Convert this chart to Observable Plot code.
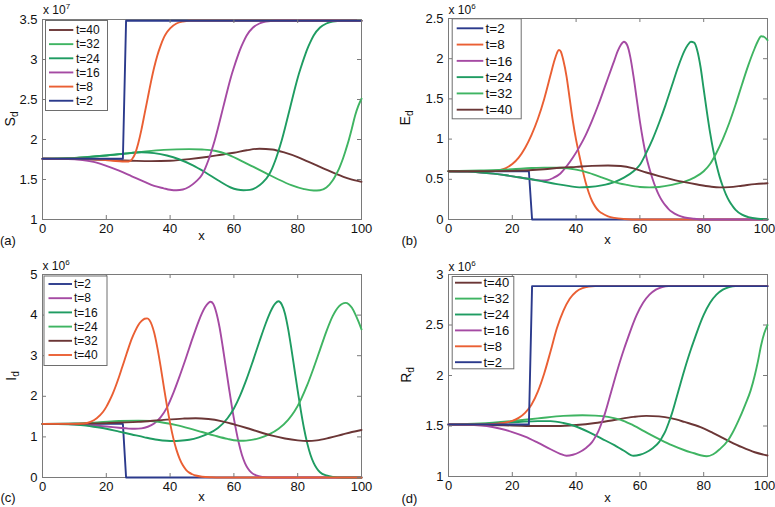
<!DOCTYPE html>
<html><head><meta charset="utf-8">
<script src="https://cdn.jsdelivr.net/npm/d3@7"></script>
<script src="https://cdn.jsdelivr.net/npm/@observablehq/plot@0.6"></script>
<style>
html,body{margin:0;padding:0;background:#fff;}
#fig{position:relative;width:775px;height:507px;overflow:hidden;background:#fff;}
.panel{position:absolute;width:388px;height:254px;}
.panel svg{display:block;overflow:visible;}
</style></head><body><div id="fig"></div>
<script>
// ---------- tick values ----------
const xTicks = [0, 20, 40, 60, 80, 100];
const yTicksS = [1, 1.5, 2, 2.5, 3, 3.5];
const yTicksE = [0, 0.5, 1, 1.5, 2, 2.5];
const yTicksI = [0, 1, 2, 3, 4, 5];
const yTicksR = [1, 1.5, 2, 2.5, 3];

// ---------- legend labels ----------
const legendS = ["t=40", "t=32", "t=24", "t=16", "t=8", "t=2"];
const legendE = ["t=2", "t=8", "t=16", "t=24", "t=32", "t=40"];
const legendI = ["t=2", "t=8", "t=16", "t=24", "t=32", "t=40"];
const legendR = ["t=40", "t=32", "t=24", "t=16", "t=8", "t=2"];

// ---------- (a) S_d  (x 10^7) ----------
const S_t40 = [[0,1.76],[10,1.755],[20,1.745],[28,1.735],[34,1.73],[40,1.735],[46,1.755],[52,1.785],[56,1.81],[60,1.835],[64,1.865],[68,1.885],[72,1.875],[76,1.835],[80,1.78],[84,1.71],[88,1.64],[92,1.57],[96,1.51],[100,1.47]];
const S_t32 = [[0,1.76],[10,1.77],[20,1.80],[30,1.84],[38,1.87],[46,1.88],[50,1.875],[54,1.86],[58,1.815],[62,1.74],[66,1.66],[70,1.58],[74,1.5],[78,1.43],[82,1.38],[85,1.362],[87,1.365],[89,1.4],[91,1.49],[92,1.56],[93,1.64],[94,1.74],[95,1.86],[96,1.99],[97,2.14],[98,2.3],[99,2.42],[100,2.51]];
const S_t24 = [[0,1.76],[8,1.765],[14,1.78],[20,1.80],[26,1.825],[31,1.84],[35,1.83],[39,1.80],[43,1.75],[47,1.68],[51,1.59],[55,1.49],[59,1.4],[61,1.375],[63,1.365],[65,1.37],[67,1.4],[69,1.46],[71,1.56],[72,1.64],[73,1.74],[74,1.86],[75,1.99],[76,2.14],[77,2.3],[78,2.46],[79,2.62],[80,2.77],[81,2.9],[82,3.02],[83,3.13],[84,3.22],[85,3.3],[87,3.4],[89,3.45],[91,3.475],[94,3.485],[100,3.485]];
const S_t16 = [[0,1.76],[8,1.755],[12,1.745],[16,1.72],[20,1.67],[24,1.61],[28,1.54],[32,1.47],[35,1.42],[38,1.39],[40,1.372],[42,1.365],[44,1.375],[46,1.41],[48,1.47],[50,1.56],[51,1.64],[52,1.74],[53,1.86],[54,1.99],[55,2.14],[56,2.3],[57,2.46],[58,2.62],[59,2.77],[60,2.9],[61,3.02],[62,3.13],[63,3.22],[64,3.3],[66,3.4],[68,3.45],[70,3.475],[73,3.485],[100,3.485]];
const S_t8 = [[0,1.76],[12,1.76],[18,1.75],[22,1.735],[25,1.725],[27,1.725],[28,1.75],[29,1.82],[30,1.95],[31,2.12],[32,2.32],[33,2.52],[34,2.72],[35,2.9],[36,3.05],[37,3.17],[38,3.27],[39,3.34],[40,3.39],[42,3.45],[44,3.475],[46,3.485],[100,3.485]];
const S_t2 = [[0,1.76],[25.2,1.76],[26.2,3.485],[100,3.485]];

// ---------- (b) E_d  (x 10^6) ----------
const E_t2 = [[0,0.6],[25.2,0.6],[26.2,0],[100,0]];
const E_t8 = [[0,0.6],[10,0.6],[14,0.605],[16,0.615],[18,0.64],[20,0.69],[22,0.77],[24,0.89],[26,1.05],[28,1.25],[30,1.5],[32,1.8],[33,1.95],[34,2.07],[34.6,2.11],[35.2,2.09],[36,1.98],[37,1.78],[38,1.5],[39,1.22],[40,0.99],[41,0.8],[42,0.62],[43,0.46],[44,0.33],[45,0.23],[46,0.16],[47,0.11],[48,0.08],[50,0.04],[52,0.02],[55,0.007],[60,0],[100,0]];
const E_t16 = [[0,0.6],[6,0.595],[10,0.585],[14,0.57],[18,0.55],[22,0.525],[26,0.5],[29,0.487],[31,0.49],[33,0.52],[35,0.57],[37,0.66],[39,0.77],[41,0.9],[43,1.05],[45,1.23],[47,1.43],[49,1.65],[51,1.87],[52,1.98],[53,2.09],[54,2.17],[55,2.21],[56,2.17],[57,2.02],[58,1.78],[59,1.5],[60,1.22],[61,0.98],[62,0.78],[63,0.63],[64,0.5],[65,0.39],[66,0.3],[67,0.23],[68,0.175],[69,0.13],[70,0.095],[72,0.05],[74,0.025],[77,0.01],[80,0],[100,0]];
const E_t24 = [[0,0.6],[6,0.595],[10,0.585],[14,0.57],[18,0.55],[22,0.525],[26,0.5],[30,0.47],[34,0.44],[38,0.415],[41,0.4],[44,0.405],[48,0.425],[52,0.465],[55,0.52],[58,0.6],[60,0.68],[62,0.83],[64,1.0],[66,1.2],[68,1.42],[70,1.66],[72,1.9],[74,2.1],[75,2.17],[76,2.21],[77,2.2],[78,2.1],[79,1.9],[80,1.62],[81,1.34],[82,1.08],[83,0.86],[84,0.68],[85,0.53],[86,0.41],[87,0.31],[88,0.23],[89,0.17],[90,0.12],[92,0.06],[94,0.03],[97,0.01],[100,0.004]];
const E_t32 = [[0,0.6],[10,0.61],[20,0.625],[26,0.64],[30,0.645],[35,0.643],[40,0.62],[44,0.58],[48,0.525],[52,0.465],[56,0.43],[60,0.405],[63,0.4],[66,0.405],[70,0.43],[74,0.47],[77,0.52],[80,0.6],[82,0.69],[84,0.83],[86,1.0],[88,1.2],[90,1.43],[92,1.68],[94,1.92],[96,2.13],[97,2.22],[98,2.28],[99,2.27],[100,2.23]];
const E_t40 = [[0,0.6],[10,0.6],[20,0.605],[30,0.625],[35,0.643],[40,0.655],[45,0.667],[50,0.672],[54,0.665],[58,0.635],[62,0.585],[66,0.54],[70,0.5],[74,0.464],[78,0.435],[82,0.41],[85,0.4],[88,0.403],[92,0.42],[96,0.44],[100,0.45]];

// ---------- (c) I_d  (x 10^6) ----------
const I_t2 = [[0,1.32],[25.2,1.32],[26.2,0],[100,0]];
const I_t8 = [[0,1.32],[8,1.315],[12,1.3],[16,1.28],[20,1.255],[24,1.225],[27,1.205],[29,1.2],[31,1.21],[33,1.25],[35,1.33],[37,1.48],[39,1.72],[41,2.08],[43,2.5],[45,2.95],[47,3.42],[49,3.86],[50,4.05],[51,4.2],[52,4.3],[52.7,4.33],[53.5,4.28],[54.5,4.06],[55.5,3.7],[56.5,3.22],[57.5,2.7],[58.5,2.18],[59.5,1.68],[60.5,1.24],[61.5,0.86],[62.5,0.56],[63.5,0.35],[64.5,0.21],[65.5,0.12],[67,0.05],[69,0.015],[72,0],[100,0]];
const I_t16 = [[0,1.32],[8,1.31],[12,1.29],[16,1.25],[20,1.2],[24,1.13],[28,1.06],[32,0.99],[36,0.93],[39,0.905],[41,0.9],[43,0.905],[46,0.93],[49,0.99],[52,1.08],[55,1.22],[58,1.46],[60,1.7],[62,2.03],[64,2.43],[66,2.88],[68,3.35],[70,3.8],[71,4.0],[72,4.17],[73,4.29],[74,4.34],[75,4.26],[76,4.04],[77,3.66],[78,3.18],[79,2.66],[80,2.14],[81,1.64],[82,1.2],[83,0.84],[84,0.56],[85,0.36],[86,0.22],[87,0.13],[89,0.05],[91,0.015],[94,0],[100,0]];
const I_t24 = [[0,1.32],[10,1.33],[18,1.36],[24,1.39],[30,1.4],[34,1.39],[38,1.35],[42,1.29],[46,1.21],[50,1.12],[54,1.03],[58,0.95],[61,0.91],[63,0.905],[65,0.92],[68,0.97],[71,1.06],[74,1.2],[77,1.42],[79,1.63],[81,1.92],[83,2.28],[85,2.7],[87,3.15],[89,3.6],[91,3.98],[92,4.12],[93,4.22],[94,4.28],[95,4.3],[96,4.27],[97,4.18],[98,4.03],[99,3.85],[100,3.65]];
const I_t32 = [[0,1.32],[10,1.325],[20,1.34],[30,1.37],[38,1.42],[44,1.45],[48,1.46],[52,1.44],[56,1.39],[60,1.31],[64,1.22],[68,1.12],[72,1.03],[76,0.96],[80,0.915],[83,0.9],[86,0.915],[90,0.98],[94,1.06],[97,1.12],[100,1.17]];
const I_t40 = [[0,1.32],[10,1.32],[13,1.33],[15,1.37],[17,1.46],[19,1.62],[20,1.74],[21,1.89],[22,2.06],[23,2.26],[24,2.48],[25,2.72],[26,2.96],[27,3.2],[28,3.42],[29,3.6],[30,3.75],[31,3.85],[32,3.91],[32.8,3.92],[33.5,3.88],[34.3,3.75],[35,3.57],[36,3.2],[37,2.75],[38,2.25],[39,1.77],[40,1.34],[41,0.97],[42,0.68],[43,0.46],[44,0.3],[45,0.19],[46,0.12],[47,0.08],[48,0.05],[50,0.02],[53,0.005],[56,0],[100,0]];

// ---------- (d) R_d  (x 10^6) ----------
const R_t40 = [[0,1.515],[10,1.51],[20,1.505],[28,1.5],[34,1.5],[40,1.51],[46,1.53],[52,1.56],[58,1.59],[62,1.6],[66,1.595],[70,1.575],[74,1.54],[79,1.49],[83,1.43],[87.6,1.356],[92,1.29],[96,1.24],[100,1.208]];
const R_t32 = [[0,1.515],[10,1.525],[20,1.55],[28,1.575],[36,1.6],[42,1.607],[46,1.603],[50,1.59],[54,1.56],[57,1.52],[60,1.472],[63,1.42],[66.5,1.363],[70,1.31],[74,1.26],[77,1.23],[79,1.21],[81,1.2],[83,1.22],[85,1.27],[87.6,1.356],[89,1.43],[91,1.56],[93,1.71],[94.7,1.85],[96,2.0],[97,2.14],[98,2.3],[99,2.42],[100,2.5]];
const R_t24 = [[0,1.515],[10,1.52],[16,1.53],[22,1.54],[28,1.548],[32,1.548],[36,1.53],[40,1.495],[44,1.44],[48,1.375],[52,1.31],[55,1.255],[58,1.205],[60,1.215],[62,1.24],[64,1.28],[66,1.34],[67,1.39],[68,1.45],[69,1.53],[70,1.62],[72,1.84],[74,2.06],[76,2.26],[77,2.35],[78,2.44],[80,2.6],[82,2.72],[84,2.8],[86,2.85],[88,2.875],[90,2.885],[100,2.885]];
const R_t16 = [[0,1.515],[8,1.51],[12,1.5],[16,1.475],[20,1.44],[24,1.395],[28,1.335],[32,1.27],[35,1.225],[37,1.205],[39,1.215],[41,1.24],[43,1.28],[45,1.34],[46,1.39],[47,1.45],[48,1.53],[49,1.62],[51,1.84],[53,2.06],[55,2.26],[56,2.35],[57,2.44],[59,2.6],[61,2.72],[63,2.8],[65,2.85],[67,2.875],[69,2.885],[100,2.885]];
const R_t8 = [[0,1.515],[10,1.515],[14,1.52],[18,1.535],[20,1.55],[22,1.58],[24,1.63],[26,1.71],[28,1.84],[30,2.02],[32,2.24],[34,2.47],[36,2.64],[38,2.76],[40,2.83],[42,2.865],[44,2.88],[46,2.885],[100,2.885]];
const R_t2 = [[0,1.515],[25.2,1.515],[26.2,2.885],[100,2.885]];

// ---------- styling ----------
const FONT = '"Liberation Sans", Arial, Helvetica, sans-serif';
const AXIS = "#7a7a7a";
const C = {navy:"#2b3a8c", orange:"#ea5f33", purple:"#a54aa3", dkgreen:"#1f9c62", ltgreen:"#3fb462", brown:"#6b3636"};

const panels = [
  {tag:"(a)", left:0, top:0, m:{top:19,right:27,bottom:35,left:42}, yDomain:[1,3.5], yTicks:yTicksS, exp:"7", ylab:"S", edgeDx:0,
   series:[S_t40,S_t32,S_t24,S_t16,S_t8,S_t2], colors:[C.brown,C.ltgreen,C.dkgreen,C.purple,C.orange,C.navy], labels:legendS,
   lg:{x0:45,y0:20,x1:107,y1:110,row0:30,gap:14.15,l0:49,l1:73.3,tx:76,fs:12},
   expX:43, expY:14, ylabX:14.5, ylabY:119, xlabX:201.5, xlabY:240, tagX:0, tagY:245},
  {tag:"(b)", left:387, top:0, m:{top:18,right:8,bottom:35,left:61}, yDomain:[0,2.5], yTicks:yTicksE, exp:"6", ylab:"E", edgeDx:-3,
   series:[E_t2,E_t8,E_t16,E_t24,E_t32,E_t40], colors:[C.navy,C.orange,C.purple,C.dkgreen,C.ltgreen,C.brown], labels:legendE,
   lg:{x0:451.7,y0:18.3,x1:520.7,y1:118.3,row0:28.3,gap:16.28,l0:456.7,l1:483.3,tx:485.5,fs:13.5},
   expX:448.5, expY:14, ylabX:409.5, ylabY:118, xlabX:607.5, xlabY:244, tagX:401.5, tagY:245},
  {tag:"(c)", left:0, top:253, m:{top:21,right:27,bottom:30,left:42}, yDomain:[0,5], yTicks:yTicksI, exp:"6", ylab:"I", edgeDx:0,
   series:[I_t2,I_t8,I_t16,I_t24,I_t32,I_t40], colors:[C.navy,C.purple,C.dkgreen,C.ltgreen,C.brown,C.orange], labels:legendI,
   lg:{x0:43.5,y0:275.5,x1:106.5,y1:365,row0:284,gap:14.2,l0:48.5,l1:72,tx:74,fs:12},
   expX:42.5, expY:270, ylabX:16, ylabY:376, xlabX:201.5, xlabY:500.5, tagX:0.5, tagY:502},
  {tag:"(d)", left:387, top:253, m:{top:21,right:8,bottom:31,left:61}, yDomain:[1,3], yTicks:yTicksR, exp:"6", ylab:"R", edgeDx:-3,
   series:[R_t40,R_t32,R_t24,R_t16,R_t8,R_t2], colors:[C.brown,C.ltgreen,C.dkgreen,C.purple,C.orange,C.navy], labels:legendR,
   lg:{x0:451.7,y0:276,x1:513.3,y1:368.3,row0:282.7,gap:15.9,l0:455,l1:481.7,tx:483.5,fs:13},
   expX:448.5, expY:270.5, ylabX:411, ylabY:375, xlabX:607.5, xlabY:501.5, tagX:401.5, tagY:503}
];

const fig = document.getElementById("fig");
const W = 388, H = 254;

for (const p of panels) {
  const pw = W - p.m.left - p.m.right;
  const ph = H - p.m.top - p.m.bottom;
  const fmt = d => String(d);
  const lastX = xTicks[xTicks.length - 1];
  const lineMarks = p.series.map((s, i) => Plot.line(s, {
    x: d => d[0], y: d => d[1], stroke: p.colors[i], strokeWidth: 1.9,
    curve: s.length === 4 ? "linear" : "monotone-x"
  }));
  const plot = Plot.plot({
    width: W, height: H,
    marginTop: p.m.top, marginRight: p.m.right, marginBottom: p.m.bottom, marginLeft: p.m.left,
    style: {fontFamily: FONT, fontSize: "13px", color: "#111", background: "transparent", overflow: "visible"},
    x: {domain: [0, 100], ticks: xTicks, tickFormat: fmt},
    y: {domain: p.yDomain, ticks: p.yTicks, tickFormat: fmt},
    marks: [
      Plot.frame({stroke: AXIS, strokeWidth: 1}),
      ...lineMarks,
      Plot.tickX(xTicks, {x: d => d, stroke: AXIS, insetTop: ph - 4}),
      Plot.tickX(xTicks, {x: d => d, stroke: AXIS, insetBottom: ph - 4}),
      Plot.tickY(p.yTicks, {y: d => d, stroke: AXIS, insetRight: pw - 4}),
      Plot.tickY(p.yTicks, {y: d => d, stroke: AXIS, insetLeft: pw - 4}),
      Plot.axisX({ticks: xTicks.filter(t => t !== lastX), tickSize: 0, tickPadding: 4, label: null, tickFormat: fmt, fill: "#111"}),
      Plot.axisX({ticks: [lastX], tickSize: 0, tickPadding: 4, label: null, tickFormat: fmt, fill: "#111", dx: p.edgeDx}),
      Plot.axisY({ticks: p.yTicks, tickSize: 0, tickPadding: 5, label: null, tickFormat: fmt, fill: "#111"})
    ]
  });
  const div = document.createElement("div");
  div.className = "panel";
  div.style.left = p.left + "px";
  div.style.top = p.top + "px";
  div.appendChild(plot);
  fig.appendChild(div);

  const svg = d3.select(plot);
  const X = gx => gx - p.left, Y = gy => gy - p.top;
  const g = svg.append("g").attr("font-family", FONT).attr("fill", "#111").attr("text-anchor", "start");

  // exponent label
  const ex = g.append("text").attr("x", X(p.expX)).attr("y", Y(p.expY))
    .attr("text-anchor", "start").attr("font-size", 12).text("x 10");
  ex.append("tspan").attr("dy", -5).attr("font-size", 8).text(p.exp);

  // y label with subscript
  const yl = g.append("text")
    .attr("transform", `translate(${X(p.ylabX)},${Y(p.ylabY)}) rotate(-90)`)
    .attr("text-anchor", "middle").attr("font-size", 14).text(p.ylab);
  yl.append("tspan").attr("dy", 3).attr("font-size", 10).text("d");

  // x label
  g.append("text").attr("x", X(p.xlabX)).attr("y", Y(p.xlabY))
    .attr("text-anchor", "middle").attr("font-size", 13).text("x");

  // panel tag
  g.append("text").attr("x", X(p.tagX)).attr("y", Y(p.tagY))
    .attr("text-anchor", "start").attr("font-size", 13).text(p.tag);

  // legend
  const lg = p.lg;
  const leg = g.append("g");
  leg.append("rect").attr("x", X(lg.x0) + 0.5).attr("y", Y(lg.y0) + 0.5)
    .attr("width", lg.x1 - lg.x0).attr("height", lg.y1 - lg.y0)
    .attr("fill", "#fff").attr("stroke", "#6e6e6e").attr("stroke-width", 1);
  p.labels.forEach((lab, i) => {
    const yy = Y(lg.row0 + i * lg.gap);
    leg.append("line").attr("x1", X(lg.l0)).attr("x2", X(lg.l1)).attr("y1", yy).attr("y2", yy)
      .attr("stroke", p.colors[i]).attr("stroke-width", 1.9);
    leg.append("text").attr("x", X(lg.tx)).attr("y", yy).attr("dy", "0.35em")
      .attr("text-anchor", "start").attr("font-size", lg.fs).text(lab);
  });
}
</script></body></html>
